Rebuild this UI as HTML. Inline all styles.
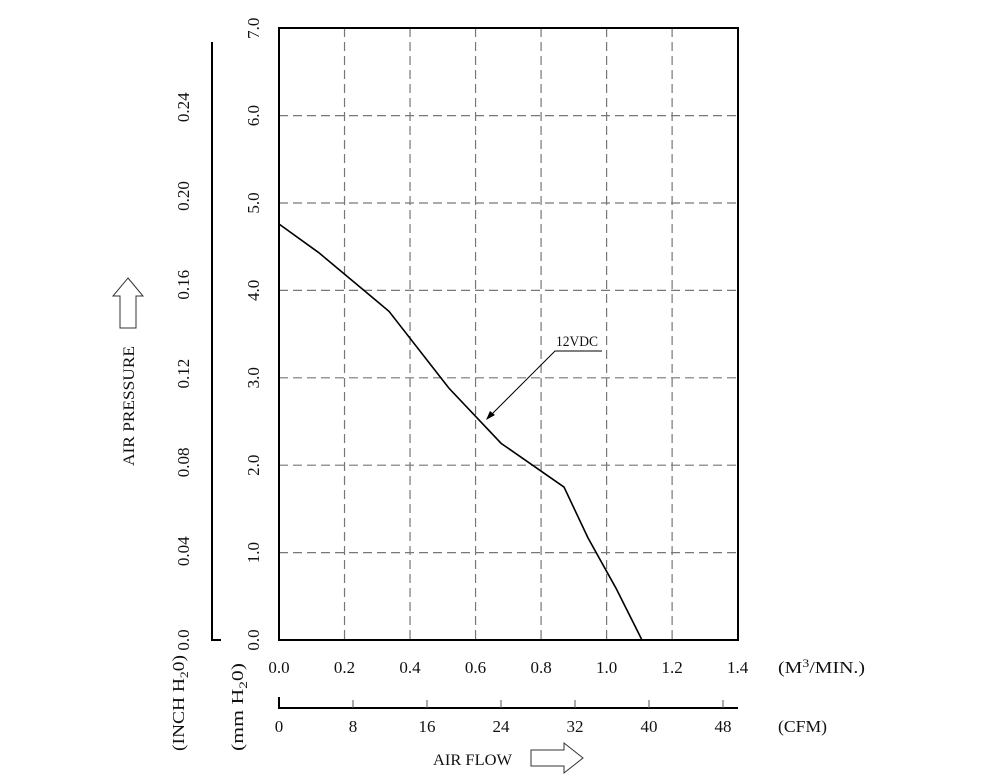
<!DOCTYPE html>
<html><head><meta charset="utf-8"><style>
body{margin:0;background:#fff}
svg text{font-family:"Liberation Serif",serif;fill:#111}
</style></head><body>
<svg id="c" width="1000" height="779" viewBox="0 0 1000 779">
<g id="grid"></g>
<g id="axes"></g>
<path id="curve" fill="none" stroke="#000" stroke-width="1.6"/>
<g>
<polyline points="488,418 555,351 602,351" fill="none" stroke="#000" stroke-width="1"/>
<polygon points="486,420 490,411 495,415" fill="#000"/>
<text x="556" y="346" font-size="15" textLength="42" lengthAdjust="spacingAndGlyphs">12VDC</text>
</g>
<g><polygon points="128,278 143,296 136,296 136,328 120,328 120,296 113,296" fill="#fff" stroke="#333" stroke-width="1"/></g>
<text transform="translate(134,466) rotate(-90)" font-size="16" textLength="120" lengthAdjust="spacingAndGlyphs">AIR PRESSURE</text>
<text transform="translate(184,751) rotate(-90)" font-size="17" textLength="96" lengthAdjust="spacingAndGlyphs">(INCH H<tspan font-size="12" dy="4">2</tspan><tspan dy="-4">0)</tspan></text>
<text transform="translate(243,751) rotate(-90)" font-size="17" textLength="88" lengthAdjust="spacingAndGlyphs">(mm H<tspan font-size="12" dy="4">2</tspan><tspan dy="-4">0)</tspan></text>
<text x="778" y="673" font-size="17" textLength="87" lengthAdjust="spacingAndGlyphs">(M<tspan font-size="12" dy="-6">3</tspan><tspan dy="6">/MIN.)</tspan></text>
<text x="778" y="732" font-size="17" textLength="49" lengthAdjust="spacingAndGlyphs">(CFM)</text>
<text x="433" y="765" font-size="16" textLength="79" lengthAdjust="spacingAndGlyphs">AIR FLOW</text>
<g><polygon points="531,750 564,750 564,743 583,758 564,773 564,766 531,766" fill="#fff" stroke="#333" stroke-width="1"/></g>
</svg>
<script>
const flowM3=[0,0.122,0.336,0.519,0.678,0.870,0.943,1.029,1.108];
const pressMm=[4.76,4.43,3.76,2.88,2.25,1.75,1.17,0.59,0];
const xTicks=["0.0","0.2","0.4","0.6","0.8","1.0","1.2","1.4"];
const yTicks=["0.0","1.0","2.0","3.0","4.0","5.0","6.0","7.0"];
const cfmTicks=["0","8","16","24","32","40","48"];
const inchTicks=["0.0","0.04","0.08","0.12","0.16","0.20","0.24"];
const NS="http://www.w3.org/2000/svg";
const X=v=>279+v*327.6, Y=v=>640-v*87.4;
const CX=v=>279+v*9.25, IY=v=>Y(v*25.4);
function mk(t,a,p){const e=document.createElementNS(NS,t);for(const k in a)e.setAttribute(k,a[k]);p.appendChild(e);return e;}
const g=document.getElementById('grid'),ax=document.getElementById('axes');
xTicks.forEach((t,i)=>{const v=+t;
 if(i>0&&i<xTicks.length-1){const l=mk('line',{x1:X(v),x2:X(v),y1:28,y2:640,stroke:'#777','stroke-width':1.2,'stroke-dasharray':'9,5'},g);
 
 }
 const tx=mk('text',{x:X(v),y:673,'font-size':17,'text-anchor':'middle'},ax);tx.textContent=t;
 
 });
yTicks.forEach((t,i)=>{const v=+t;
 if(i>0&&i<yTicks.length-1){const l=mk('line',{x1:279,x2:738,y1:Y(v),y2:Y(v),stroke:'#777','stroke-width':1.2,'stroke-dasharray':'9,5'},g);
 
 }
 const tx=mk('text',{transform:`translate(259,${Y(v)}) rotate(-90)`,'font-size':17,'text-anchor':'middle'},ax);tx.textContent=t;
 
 });
const fr=mk('rect',{x:279,y:28,width:459,height:612,fill:'none',stroke:'#000','stroke-width':2},ax);


const il=mk('path',{d:'M212,42 V640 H221',fill:'none',stroke:'#000','stroke-width':2},ax);


inchTicks.forEach(t=>{const v=+t;
 const tx=mk('text',{transform:`translate(189,${IY(v)}) rotate(-90)`,'font-size':17,'text-anchor':'middle'},ax);tx.textContent=t;
 
 });
const cl=mk('path',{d:'M279,697 V708 H738',fill:'none',stroke:'#000','stroke-width':2},ax);


cfmTicks.forEach(t=>{const v=+t;
 if(v>0)mk('line',{x1:CX(v),x2:CX(v),y1:700,y2:708,stroke:'#555','stroke-width':1},ax);
 const tx=mk('text',{x:CX(v),y:732,'font-size':17,'text-anchor':'middle'},ax);tx.textContent=t;
 
 });
document.getElementById('curve').setAttribute('d',flowM3.map((v,i)=>(i?'L':'M')+X(v)+','+Y(pressMm[i])).join(' '));
</script>
</body></html>
